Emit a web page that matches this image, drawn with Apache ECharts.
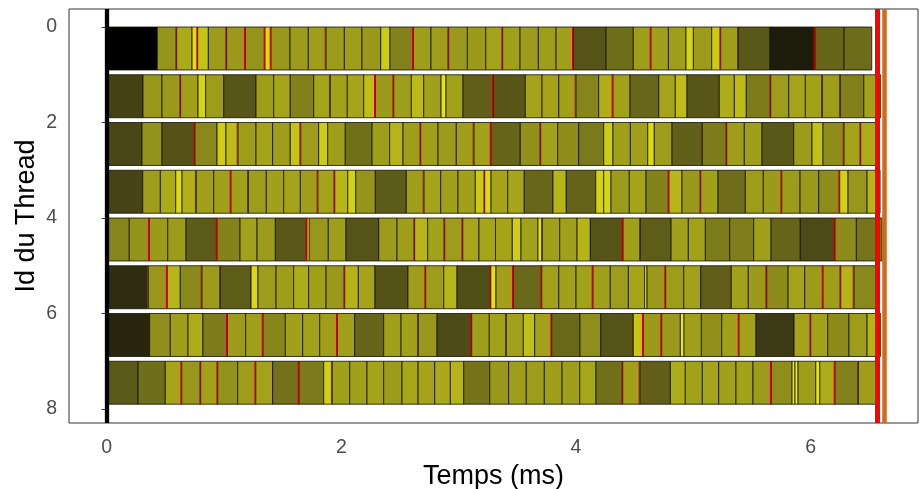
<!DOCTYPE html>
<html>
<head>
<meta charset="utf-8">
<script src="https://cdn.jsdelivr.net/npm/echarts@6/dist/echarts.min.js"></script>
<style>
html,body{margin:0;padding:0;background:#fff;}
#chart{width:919px;height:489px;}
</style>
</head>
<body>
<div id="chart"></div>
<script>
// Task boundaries (ms) per thread: start of each task, last value = end of last task
var thread0 = [0, 0.432, 0.597, 0.728, 0.776, 0.867, 1.023, 1.182, 1.350, 1.401, 1.563, 1.719, 1.870, 2.026, 2.176, 2.336, 2.415, 2.614, 2.764, 2.915, 3.074, 3.231, 3.375, 3.523, 3.679, 3.830, 3.977, 4.256, 4.488, 4.639, 4.787, 4.937, 5.000, 5.156, 5.233, 5.383, 5.653, 6.037, 6.284, 6.520];
var thread1 = [0, 0.310, 0.472, 0.631, 0.779, 0.844, 0.998, 1.273, 1.424, 1.565, 1.765, 1.906, 2.051, 2.191, 2.290, 2.447, 2.597, 2.702, 2.850, 2.892, 3.037, 3.297, 3.568, 3.710, 3.853, 4.000, 4.193, 4.315, 4.460, 4.705, 4.846, 4.946, 5.221, 5.349, 5.451, 5.659, 5.813, 5.954, 6.099, 6.252, 6.452, 6.596];
var thread2 = [0, 0.302, 0.472, 0.753, 0.941, 1.017, 1.120, 1.273, 1.415, 1.565, 1.654, 1.807, 1.884, 2.034, 2.262, 2.412, 2.526, 2.677, 2.824, 2.980, 3.131, 3.276, 3.525, 3.699, 3.844, 4.023, 4.236, 4.315, 4.463, 4.611, 4.667, 4.818, 5.076, 5.284, 5.434, 5.585, 5.855, 6.011, 6.105, 6.284, 6.426, 6.556];
var thread3 = [0, 0.308, 0.458, 0.589, 0.643, 0.764, 0.913, 1.060, 1.208, 1.361, 1.509, 1.651, 1.801, 1.944, 2.055, 2.123, 2.290, 2.554, 2.705, 2.847, 2.994, 3.142, 3.222, 3.276, 3.418, 3.559, 3.804, 3.917, 4.168, 4.236, 4.298, 4.454, 4.597, 4.792, 4.903, 5.063, 5.210, 5.443, 5.596, 5.753, 5.909, 6.068, 6.247, 6.318, 6.480, 6.591];
var thread4 = [0, 0.193, 0.364, 0.521, 0.677, 0.941, 1.137, 1.282, 1.438, 1.708, 1.727, 1.889, 2.040, 2.319, 2.475, 2.625, 2.736, 2.881, 3.035, 3.173, 3.314, 3.457, 3.531, 3.676, 3.713, 3.861, 4.009, 4.122, 4.401, 4.548, 4.810, 4.957, 5.102, 5.310, 5.514, 5.662, 5.911, 6.207, 6.389, 6.608];
var thread5 = [0, 0.355, 0.517, 0.628, 0.813, 0.969, 1.231, 1.290, 1.444, 1.594, 1.722, 1.870, 2.029, 2.145, 2.287, 2.568, 2.719, 2.873, 2.986, 3.274, 3.318, 3.466, 3.708, 3.853, 4.000, 4.145, 4.292, 4.446, 4.585, 4.605, 4.764, 4.918, 5.063, 5.323, 5.468, 5.625, 5.807, 5.949, 6.105, 6.256, 6.369, 6.556];
var thread6 = [0, 0.367, 0.543, 0.694, 0.821, 1.029, 1.185, 1.333, 1.523, 1.671, 1.816, 1.966, 2.114, 2.361, 2.509, 2.656, 2.816, 3.111, 3.261, 3.406, 3.551, 3.648, 3.793, 4.034, 4.211, 4.488, 4.573, 4.730, 4.889, 4.920, 5.068, 5.242, 5.389, 5.534, 5.858, 6.000, 6.145, 6.326, 6.480, 6.596];
var thread7 = [0, 0.268, 0.500, 0.640, 0.802, 0.947, 1.117, 1.271, 1.415, 1.640, 1.850, 1.923, 2.072, 2.219, 2.361, 2.517, 2.654, 2.796, 2.929, 3.043, 3.265, 3.426, 3.576, 3.730, 3.881, 4.032, 4.170, 4.398, 4.545, 4.804, 4.931, 5.076, 5.216, 5.363, 5.508, 5.664, 5.841, 5.866, 5.892, 6.043, 6.077, 6.207, 6.406, 6.556];

// Very short (red) events per thread (ms)
var red0 = [0.597, 0.776, 1.023, 1.182, 1.350, 1.401, 1.870, 2.614, 2.915, 3.375, 3.977, 4.639, 5.233, 5.383, 6.037];
var red1 = [0.631, 1.906, 2.290, 2.447, 3.297, 4.000, 4.315, 5.659, 6.099, 6.252];
var red2 = [0.753, 1.120, 1.654, 2.677, 3.131, 3.276, 3.699, 5.076, 5.284, 6.284, 6.426];
var red3 = [0.764, 1.060, 1.208, 1.801, 1.944, 2.705, 3.222, 4.792, 5.063, 5.753, 6.247];
var red4 = [0.364, 0.941, 1.708, 2.625, 2.881, 3.035, 3.713, 4.401, 4.548, 6.207];
var red5 = [0.355, 0.517, 0.813, 0.969, 2.029, 2.719, 3.274, 3.466, 3.708, 4.145, 4.764, 5.625, 6.105, 6.256, 6.369];
var red6 = [1.029, 1.333, 1.966, 2.656, 3.111, 3.406, 3.793, 4.573, 4.730, 5.389, 6.000];
var red7 = [0.640, 0.802, 0.947, 1.271, 1.640, 1.923, 4.398, 4.545, 5.664, 6.207, 6.406];

// Vertical markers (ms)
var markerStart = 0;
var markerRed = 6.569;
var markerOrange = 6.633;

var xTicks = [0, 2, 4, 6];
var yTicks = [0, 2, 4, 6, 8];

var threads = [thread0, thread1, thread2, thread3, thread4, thread5, thread6, thread7];
var reds = [red0, red1, red2, red3, red4, red5, red6, red7];

var taskData = [];
var maxDur = 0;
threads.forEach(function (b, row) {
  for (var i = 0; i < b.length - 1; i++) {
    var d = b[i + 1] - b[i];
    if (d > maxDur) maxDur = d;
    taskData.push([b[i], b[i + 1], row, d]);
  }
});
var redData = [];
reds.forEach(function (arr, row) {
  arr.forEach(function (t) { redData.push([t, row]); });
});

var chart = echarts.init(document.getElementById('chart'), null, {renderer: 'canvas'});
var FONT = 'Liberation Sans, Arial, Helvetica, sans-serif';

chart.setOption({
  animation: false,
  backgroundColor: '#ffffff',
  grid: {left: 69, right: 1, top: 9, bottom: 66, show: true, borderColor: '#333333', borderWidth: 1, backgroundColor: 'transparent', containLabel: false, outerBoundsMode: 'none'},
  xAxis: {
    type: 'value', min: -0.3204, max: 6.914,
    name: 'Temps (ms)', nameLocation: 'middle', nameGap: 40, nameMoveOverlap: false,
    nameTextStyle: {fontFamily: FONT, fontSize: 27, color: '#000'},
    axisLine: {show: false},
    splitLine: {show: false},
    axisTick: {show: true, length: 5, inside: false, customValues: xTicks, lineStyle: {color: '#333333', width: 1}},
    axisLabel: {customValues: xTicks, margin: 15, fontFamily: FONT, fontSize: 19.5, color: '#4d4d4d'}
  },
  yAxis: {
    type: 'value', inverse: true, min: -0.377, max: 8.293,
    name: 'Id du Thread', nameLocation: 'middle', nameGap: 29, nameMoveOverlap: false,
    nameTextStyle: {fontFamily: FONT, fontSize: 27, color: '#000'},
    axisLine: {show: false},
    splitLine: {show: false},
    axisTick: {show: true, length: 5, inside: false, customValues: yTicks, lineStyle: {color: '#333333', width: 1}},
    axisLabel: {customValues: yTicks, margin: 12, fontFamily: FONT, fontSize: 19.5, color: '#4d4d4d'}
  },
  visualMap: {
    show: false, type: 'continuous', seriesIndex: 0, dimension: 3,
    min: 0, max: maxDur,
    inRange: {color: ['#ffff00', '#dcdb12', '#b9b818', '#98971b', '#78771b', '#5a5818', '#3d3b15', '#22200e', '#000000']}
  },
  series: [
    {
      type: 'custom', clip: true, silent: true, z: 2,
      data: taskData,
      encode: {x: [0, 1], y: 2},
      renderItem: function (params, api) {
        var p0 = api.coord([api.value(0), api.value(2)]);
        var p1 = api.coord([api.value(1), api.value(2) + 0.9]);
        return {
          type: 'rect',
          shape: {x: p0[0], y: Math.min(p0[1], p1[1]), width: p1[0] - p0[0], height: Math.abs(p1[1] - p0[1])},
          style: {fill: api.visual('color'), stroke: '#111100', lineWidth: 0.8}
        };
      }
    },
    {
      type: 'custom', clip: true, silent: true, z: 3,
      data: redData,
      encode: {x: 0, y: 1},
      renderItem: function (params, api) {
        var p0 = api.coord([api.value(0), api.value(1)]);
        var p1 = api.coord([api.value(0), api.value(1) + 0.9]);
        return {
          type: 'line',
          shape: {x1: p0[0] - 0.8, y1: p0[1], x2: p1[0] - 0.8, y2: p1[1]},
          style: {stroke: '#d00000', lineWidth: 1.1}
        };
      }
    },
    {
      type: 'line', data: [], silent: true, z: 5,
      markLine: {
        symbol: 'none', silent: true, animation: false,
        label: {show: false},
        data: [
          {xAxis: markerStart, lineStyle: {color: '#000000', width: 4.3, type: 'solid'}},
          {xAxis: markerRed, lineStyle: {color: '#ff0000', width: 5, type: 'solid'}},
          {xAxis: markerOrange, lineStyle: {color: '#d2691e', width: 4.5, type: 'solid'}}
        ]
      }
    }
  ]
});
</script>
</body>
</html>
